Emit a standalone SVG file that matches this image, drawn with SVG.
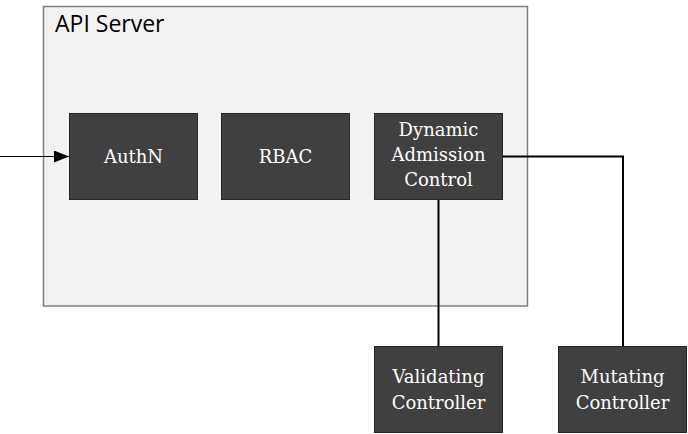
<svg xmlns="http://www.w3.org/2000/svg" width="688" height="434" viewBox="0 0 688 434">
<defs>
<style>
.node{fill:#404040;stroke:#262626;stroke-width:1}
.lbl{font-family:"DejaVu Serif","Liberation Serif",serif;font-size:18px;fill:#ffffff;text-anchor:middle}
.title{font-family:"Open Sans","Noto Sans",sans-serif;font-size:23px;fill:#000}
.conn{fill:none;stroke:#000;stroke-width:2}
</style>
<marker id="arr" markerWidth="15" markerHeight="12" refX="15" refY="6" orient="auto" markerUnits="userSpaceOnUse">
<path d="M0,0 L15,6 L0,12 Z" fill="#000"/>
</marker>
</defs>
<rect width="688" height="434" fill="#fff"/>
<g id="api-server">
<rect x="43.5" y="6.5" width="484" height="299.5" fill="#f2f2f2" stroke="#7f7f7f" stroke-width="1.5"/>
<text class="title" x="55" y="32">API Server</text>
</g>
<g id="connectors">
<line x1="0" y1="156.5" x2="69" y2="156.5" stroke="#000" stroke-width="1.2" marker-end="url(#arr)"/>
<path class="conn" d="M438.5,199.5 V346"/>
<path class="conn" d="M502.5,156.5 H623 V346"/>
</g>
<g id="authn">
<rect class="node" x="69.5" y="113.5" width="128" height="86"/>
<text class="lbl" x="133.5" y="163">AuthN</text>
</g>
<g id="rbac">
<rect class="node" x="221.5" y="113.5" width="128" height="86"/>
<text class="lbl" x="285.5" y="163">RBAC</text>
</g>
<g id="dac">
<rect class="node" x="374.5" y="113.5" width="128" height="86"/>
<text class="lbl" x="438.5" y="136">Dynamic</text>
<text class="lbl" x="438.5" y="161">Admission</text>
<text class="lbl" x="438.5" y="186">Control</text>
</g>
<g id="validating">
<rect class="node" x="374.5" y="346.5" width="128" height="86"/>
<text class="lbl" x="438.5" y="383">Validating</text>
<text class="lbl" x="438.5" y="409">Controller</text>
</g>
<g id="mutating">
<rect class="node" x="558.5" y="346.5" width="128" height="86"/>
<text class="lbl" x="622.5" y="383">Mutating</text>
<text class="lbl" x="622.5" y="409">Controller</text>
</g>
</svg>
